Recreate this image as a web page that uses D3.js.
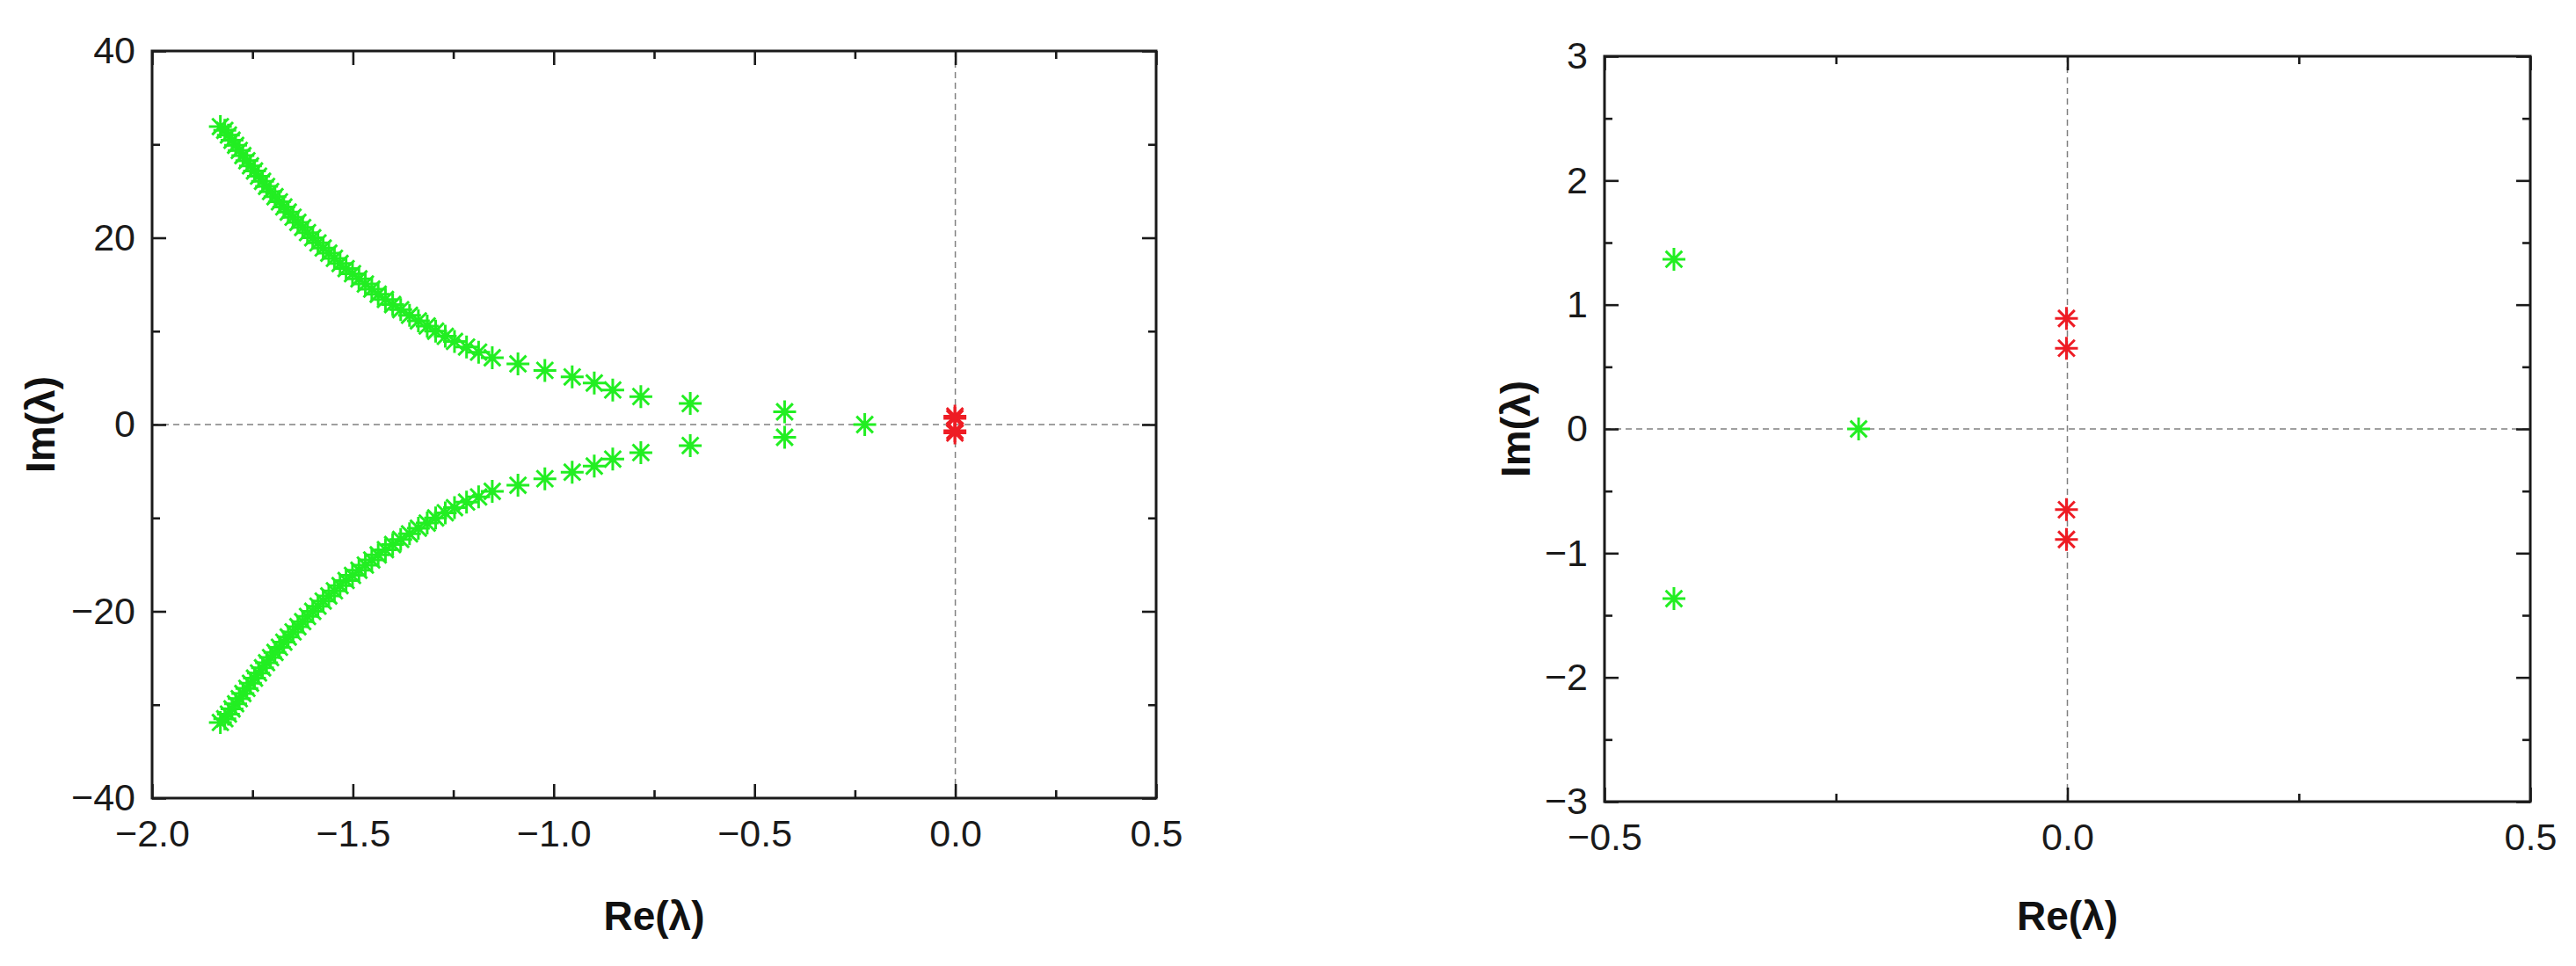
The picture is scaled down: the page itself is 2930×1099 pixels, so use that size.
<!DOCTYPE html>
<html>
<head>
<meta charset="utf-8">
<script src="https://cdn.jsdelivr.net/npm/d3@7"></script>
<style>
  body { margin: 0; background: #fff; }
  svg text { font-family: "Liberation Sans", Arial, sans-serif; }
</style>
</head>
<body>
<script>
// eigenvalues
// complex branch (upper half), Re and Im
var branchRe = [-0.425, -0.660, -0.783, -0.853, -0.899, -0.954, -1.022, -1.089, -1.153, -1.187,
  -1.217, -1.247, -1.270, -1.294, -1.315, -1.337, -1.359, -1.381, -1.401, -1.419,
  -1.437, -1.453, -1.469, -1.485, -1.501, -1.517, -1.532, -1.546, -1.560, -1.574,
  -1.587, -1.600, -1.613, -1.625, -1.637, -1.649, -1.661, -1.672, -1.683, -1.694,
  -1.705, -1.715, -1.725, -1.735, -1.745, -1.755, -1.764, -1.774, -1.783, -1.792,
  -1.801, -1.810, -1.819, -1.830];
var branchImUpper = [1.366, 2.25, 3.0, 3.7, 4.45, 5.1, 5.8, 6.5, 7.15, 7.75,
  8.3, 8.9, 9.45, 10.0, 10.55, 11.1, 11.7, 12.3, 12.85, 13.4,
  13.95, 14.5, 15.05, 15.6, 16.15, 16.7, 17.25, 17.8, 18.35, 18.9,
  19.45, 20.0, 20.55, 21.1, 21.65, 22.2, 22.75, 23.3, 23.85, 24.4,
  24.95, 25.5, 26.05, 26.6, 27.15, 27.7, 28.25, 28.8, 29.35, 29.9,
  30.45, 31.0, 31.5, 31.9];
var branchImLower = [-1.366, -2.25, -3.0, -3.7, -4.45, -5.1, -5.8, -6.5, -7.15, -7.75,
  -8.3, -8.9, -9.45, -10.0, -10.55, -11.1, -11.7, -12.3, -12.85, -13.4,
  -13.95, -14.5, -15.05, -15.6, -16.15, -16.7, -17.25, -17.8, -18.35, -18.9,
  -19.45, -20.0, -20.55, -21.1, -21.65, -22.2, -22.75, -23.3, -23.85, -24.4,
  -24.95, -25.5, -26.05, -26.6, -27.15, -27.7, -28.25, -28.8, -29.35, -29.9,
  -30.45, -31.0, -31.5, -31.9];
// real eigenvalue
var realRe = [-0.2255];
var realIm = [0];
// eigenvalues on the imaginary axis (red)
var redRe = [-0.001, -0.001, -0.001, -0.001];
var redIm = [0.89, 0.65, -0.65, -0.89];

// tick labels
var leftXTicks = [-2.0, -1.5, -1.0, -0.5, 0.0, 0.5];
var leftXMinor = [-1.75, -1.25, -0.75, -0.25, 0.25];
var leftYTicks = [-40, -20, 0, 20, 40];
var leftYMinor = [-30, -10, 10, 30];
var rightXTicks = [-0.5, 0.0, 0.5];
var rightXMinor = [-0.25, 0.25];
var rightYTicks = [-3, -2, -1, 0, 1, 2, 3];
var rightYMinor = [-2.5, -1.5, -0.5, 0.5, 1.5, 2.5];

var green = "#22ee22", red = "#ee1c24", ink = "#1a1a1a";

var greenPts = [];
branchRe.forEach(function(r, i) { greenPts.push([r, branchImUpper[i]]); });
branchRe.forEach(function(r, i) { greenPts.push([r, branchImLower[i]]); });
realRe.forEach(function(r, i) { greenPts.push([r, realIm[i]]); });
var redPts = redRe.map(function(r, i) { return [r, redIm[i]]; });

var svg = d3.select("body").append("svg")
    .attr("width", 2930)
    .attr("height", 1099);
svg.append("rect").attr("width", 2930).attr("height", 1099).attr("fill", "#fff");

// asterisk marker, 8 arms
var r = 13, d = r * 0.72;
var star = "M" + (-r) + ",0L" + r + ",0M0," + (-r) + "L0," + r +
  "M" + (-d) + "," + (-d) + "L" + d + "," + d + "M" + (-d) + "," + d + "L" + d + "," + (-d);

function panel(id, o) {
  var x = d3.scaleLinear().domain(o.xDomain).range([o.left, o.right]);
  var y = d3.scaleLinear().domain(o.yDomain).range([o.bottom, o.top]);
  var g = svg.append("g");

  g.append("clipPath").attr("id", id)
    .append("rect")
      .attr("x", o.left).attr("y", o.top)
      .attr("width", o.right - o.left).attr("height", o.bottom - o.top);

  // zero lines
  g.append("line")
    .attr("x1", x(0)).attr("x2", x(0)).attr("y1", o.top).attr("y2", o.bottom)
    .attr("stroke", "#808080").attr("stroke-width", 1.5).attr("stroke-dasharray", "7,5");
  g.append("line")
    .attr("x1", o.left).attr("x2", o.right).attr("y1", y(0)).attr("y2", y(0))
    .attr("stroke", "#808080").attr("stroke-width", 1.5).attr("stroke-dasharray", "7,5");

  var pts = g.append("g").attr("clip-path", "url(#" + id + ")");
  pts.selectAll(".g")
    .data(greenPts)
    .enter()
    .append("path")
      .attr("d", star)
      .attr("transform", function(p) { return "translate(" + x(p[0]) + "," + y(p[1]) + ")"; })
      .attr("fill", "none")
      .attr("stroke", green)
      .attr("stroke-width", 3);
  pts.selectAll(".r")
    .data(redPts)
    .enter()
    .append("path")
      .attr("d", star)
      .attr("transform", function(p) { return "translate(" + x(p[0]) + "," + y(p[1]) + ")"; })
      .attr("fill", "none")
      .attr("stroke", red)
      .attr("stroke-width", 3);

  function style(a) {
    a.select(".domain").remove();
    a.attr("font-size", 43).attr("font-family", '"Liberation Sans", Arial, sans-serif')
      .attr("color", ink);
    a.selectAll("line").attr("stroke-width", 2.6);
    a.selectAll("text").attr("fill", ink);
  }

  // bottom + top
  g.append("g").attr("transform", "translate(0," + o.bottom + ")")
    .call(d3.axisBottom(x).tickValues(o.xTicks).tickSize(-16).tickPadding(24).tickFormat(d3.format(".1f")))
    .call(style);
  g.append("g").attr("transform", "translate(0," + o.bottom + ")")
    .call(d3.axisBottom(x).tickValues(o.xMinor).tickSize(-9).tickFormat(""))
    .call(style);
  g.append("g").attr("transform", "translate(0," + o.top + ")")
    .call(d3.axisTop(x).tickValues(o.xTicks).tickSize(-16).tickFormat(""))
    .call(style);
  g.append("g").attr("transform", "translate(0," + o.top + ")")
    .call(d3.axisTop(x).tickValues(o.xMinor).tickSize(-9).tickFormat(""))
    .call(style);

  // left + right
  g.append("g").attr("transform", "translate(" + o.left + ",0)")
    .call(d3.axisLeft(y).tickValues(o.yTicks).tickSize(-16).tickPadding(19).tickFormat(d3.format("d")))
    .call(style);
  g.append("g").attr("transform", "translate(" + o.left + ",0)")
    .call(d3.axisLeft(y).tickValues(o.yMinor).tickSize(-9).tickFormat(""))
    .call(style);
  g.append("g").attr("transform", "translate(" + o.right + ",0)")
    .call(d3.axisRight(y).tickValues(o.yTicks).tickSize(-16).tickFormat(""))
    .call(style);
  g.append("g").attr("transform", "translate(" + o.right + ",0)")
    .call(d3.axisRight(y).tickValues(o.yMinor).tickSize(-9).tickFormat(""))
    .call(style);

  // frame
  g.append("rect")
    .attr("x", o.left).attr("y", o.top)
    .attr("width", o.right - o.left).attr("height", o.bottom - o.top)
    .attr("fill", "none").attr("stroke", ink).attr("stroke-width", 3);

  // titles
  g.append("text")
    .attr("x", (o.left + o.right) / 2).attr("y", 1058)
    .attr("text-anchor", "middle")
    .attr("font-size", 46).attr("font-weight", "bold").attr("fill", "#111")
    .text("Re(λ)");
  g.append("text")
    .attr("transform", "translate(" + o.yTitleX + "," + ((o.top + o.bottom) / 2) + ") rotate(-90)")
    .attr("text-anchor", "middle")
    .attr("font-size", 46).attr("font-weight", "bold").attr("fill", "#111")
    .text("Im(λ)");
}

panel("clipL", {
  left: 173, right: 1315, top: 58, bottom: 908,
  xDomain: [-2, 0.5], yDomain: [-40, 40],
  xTicks: leftXTicks, xMinor: leftXMinor, yTicks: leftYTicks, yMinor: leftYMinor,
  yTitleX: 62
});
panel("clipR", {
  left: 1825, right: 2878, top: 64, bottom: 912,
  xDomain: [-0.5, 0.5], yDomain: [-3, 3],
  xTicks: rightXTicks, xMinor: rightXMinor, yTicks: rightYTicks, yMinor: rightYMinor,
  yTitleX: 1740
});
</script>
</body>
</html>
